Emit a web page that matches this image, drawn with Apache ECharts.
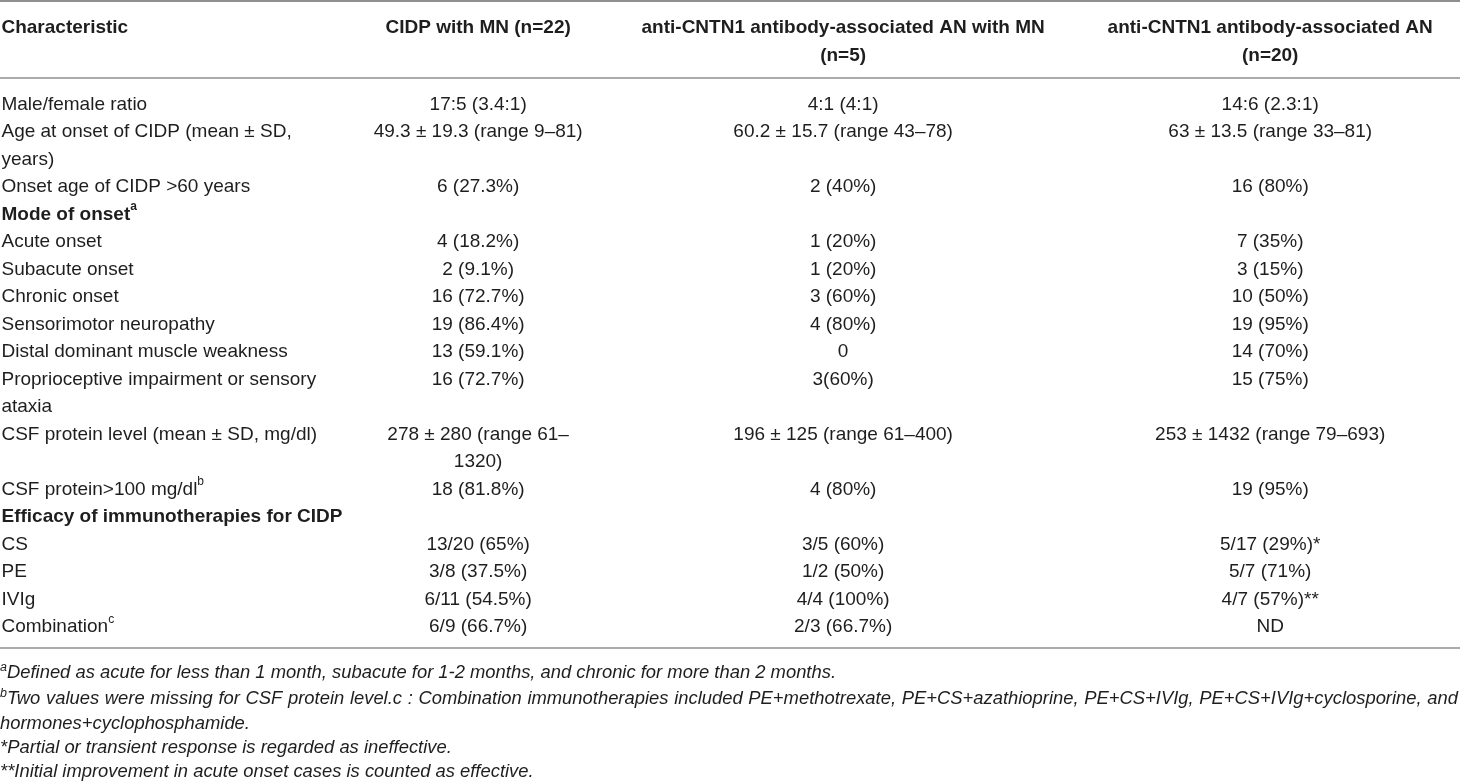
<!DOCTYPE html>
<html>
<head>
<meta charset="utf-8">
<title>CIDP with MN vs anti-CNTN1 AN</title>
<script src="https://cdn.jsdelivr.net/npm/echarts@6/dist/echarts.min.js"></script>
<style>
  html, body { margin: 0; padding: 0; background: #fff; }
  #charts { width: 1460px; height: 783px; }
</style>
</head>
<body>
<div id="charts"></div>
<script>
// ---- table content ----
var headers = [
    'Characteristic',
    'CIDP with MN (n=22)',
    'anti-CNTN1 antibody-associated AN with MN\n(n=5)',
    'anti-CNTN1 antibody-associated AN\n(n=20)'
];

var characteristics = [
    'Male/female ratio',
    'Age at onset of CIDP (mean ± SD,\nyears)',
    'Onset age of CIDP >60 years',
    'Mode of onset^a',
    'Acute onset',
    'Subacute onset',
    'Chronic onset',
    'Sensorimotor neuropathy',
    'Distal dominant muscle weakness',
    'Proprioceptive impairment or sensory\nataxia',
    'CSF protein level (mean ± SD, mg/dl)',
    'CSF protein>100 mg/dl^b',
    'Efficacy of immunotherapies for CIDP',
    'CS',
    'PE',
    'IVIg',
    'Combination^c'
];

var sectionRows = [3, 12];

var cidpWithMN = ['17:5 (3.4:1)', '49.3 ± 19.3 (range 9–81)', '6 (27.3%)', '', '4 (18.2%)', '2 (9.1%)',
    '16 (72.7%)', '19 (86.4%)', '13 (59.1%)', '16 (72.7%)', '278 ± 280 (range 61–\n1320)', '18 (81.8%)', '',
    '13/20 (65%)', '3/8 (37.5%)', '6/11 (54.5%)', '6/9 (66.7%)'];

var cntn1WithMN = ['4:1 (4:1)', '60.2 ± 15.7 (range 43–78)', '2 (40%)', '', '1 (20%)', '1 (20%)',
    '3 (60%)', '4 (80%)', '0', '3(60%)', '196 ± 125 (range 61–400)', '4 (80%)', '',
    '3/5 (60%)', '1/2 (50%)', '4/4 (100%)', '2/3 (66.7%)'];

var cntn1AN = ['14:6 (2.3:1)', '63 ± 13.5 (range 33–81)', '16 (80%)', '', '7 (35%)', '3 (15%)',
    '10 (50%)', '19 (95%)', '14 (70%)', '15 (75%)', '253 ± 1432 (range 79–693)', '19 (95%)', '',
    '5/17 (29%)*', '5/7 (71%)', '4/7 (57%)**', 'ND'];

var footnotes = [
    '^aDefined as acute for less than 1 month, subacute for 1-2 months, and chronic for more than 2 months.',
    '^bTwo values were missing for CSF protein level.c : Combination immunotherapies included PE+methotrexate, PE+CS+azathioprine, PE+CS+IVIg, PE+CS+IVIg+cyclosporine, and\nhormones+cyclophosphamide.',
    '*Partial or transient response is regarded as ineffective.',
    '**Initial improvement in acute onset cases is counted as effective.'
];

// ---- layout ----
var FONT = '"Liberation Sans", Arial, Helvetica, sans-serif';
var TEXT_COLOR = '#1e1e1e';
var RULE_COLOR = '#8f8f8f';
var COL_ANCHOR = [1, 327.5, 577.5, 870]; // per mille of table width
var FOOT_Y = [673, 699, 724, 748, 772];
var FOOT_SIZE = 18.4;

// 'text^x' -> rich tokens, x is a one-letter superscript
function toRich(str) {
    var i = str.indexOf('^');
    if (i < 0) return str;
    return str.slice(0, i) + '{sup|' + str.charAt(i + 1) + '}' + str.slice(i + 2);
}
function toTokens(str) {
    var i = str.indexOf('^');
    if (i < 0) return '{n|' + str + '}';
    var out = '';
    if (i > 0) out += '{n|' + str.slice(0, i) + '}';
    out += '{sup|' + str.charAt(i + 1) + '}';
    if (str.length > i + 2) out += '{n|' + str.slice(i + 2) + '}';
    return out;
}

function lineCount(s) { return s.split('\n').length; }

// body cells, one slot per printed line
var bodyCells = [];
var slot = 0;
characteristics.forEach(function (name, r) {
    var row = [name, cidpWithMN[r], cntn1WithMN[r], cntn1AN[r]];
    var bold = sectionRows.indexOf(r) >= 0;
    var n = 1;
    row.forEach(function (txt, c) {
        if (txt === '') return;
        bodyCells.push({ col: c, slot: slot, text: toRich(txt), bold: bold });
        n = Math.max(n, lineCount(txt));
    });
    slot += n;
});
var bodySlots = slot;

var headCells = headers.map(function (h, c) {
    return { col: c, slot: 0, text: h, bold: true };
});

function slotNames(n) {
    var a = [];
    for (var i = 0; i < n; i++) a.push('s' + i);
    return a;
}

function makeRender(cells) {
    return function (params, api) {
        var cell = cells[params.dataIndex];
        var pt = api.coord([COL_ANCHOR[cell.col], api.value(1)]);
        var slotH = api.size([0, 1])[1];
        var weight = cell.bold ? 'bold' : 'normal';
        return {
            type: 'text',
            x: pt[0],
            y: pt[1] - slotH / 2,
            style: {
                text: cell.text,
                fill: TEXT_COLOR,
                fontFamily: FONT,
                fontSize: 19,
                fontWeight: weight,
                lineHeight: slotH,
                align: cell.col === 0 ? 'left' : 'center',
                verticalAlign: 'top',
                rich: {
                    sup: { fontSize: 12, fontFamily: FONT, fontWeight: weight, fill: TEXT_COLOR,
                           verticalAlign: 'top', lineHeight: 17 }
                }
            }
        };
    };
}

// ---- footnotes (first line of b is justified like the source) ----
var measureCtx = document.createElement('canvas').getContext('2d');
function footFont(size) { return 'italic ' + size + 'px ' + FONT; }
var SUP_SIZE = 12.5;

function footText(x, y, tokens) {
    return {
        type: 'text', x: x, y: y,
        style: {
            text: tokens, verticalAlign: 'middle', lineHeight: 24,
            rich: {
                n: { fontSize: FOOT_SIZE, fontFamily: FONT, fontStyle: 'italic', fill: TEXT_COLOR, lineHeight: 24 },
                sup: { fontSize: SUP_SIZE, fontFamily: FONT, fontStyle: 'italic', fill: TEXT_COLOR,
                       verticalAlign: 'top', lineHeight: 14 }
            }
        }
    };
}

var graphics = [];
[1, 78, 648].forEach(function (y, i) {
    graphics.push({ type: 'line', shape: { x1: 0, y1: y, x2: 1460, y2: y },
        style: { stroke: RULE_COLOR, lineWidth: i === 0 ? 2 : 1.6 } });
});

var fLine = 0;
footnotes.forEach(function (note) {
    var parts = note.split('\n');
    parts.forEach(function (part, p) {
        var y = FOOT_Y[fLine++];
        var justify = parts.length > 1 && p < parts.length - 1;
        if (!justify) {
            graphics.push(footText(0, y, toTokens(part)));
            return;
        }
        var supChar = part.charAt(0) === '^' ? part.charAt(1) : '';
        var body = supChar ? part.slice(2) : part;
        var x0 = 0;
        if (supChar) {
            // zero-width tail keeps the full line box so the mark sits raised
            graphics.push(footText(0, y, '{sup|' + supChar + '}{n|\u200b}'));
            measureCtx.font = footFont(SUP_SIZE);
            x0 = measureCtx.measureText(supChar).width;
        }
        measureCtx.font = footFont(FOOT_SIZE);
        var words = body.split(' ');
        var widths = words.map(function (w) { return measureCtx.measureText(w).width; });
        var total = widths.reduce(function (a, b) { return a + b; }, 0);
        var gap = (1458 - x0 - total) / (words.length - 1);
        var x = x0;
        words.forEach(function (w, j) {
            graphics.push(footText(x, y, '{n|' + w + '}'));
            x += widths[j] + gap;
        });
    });
});

var option = {
    animation: false,
    grid: [
        { left: 0, right: 0, top: 14, height: 55.1 },
        { left: 0, right: 0, top: 90.8, height: 27.5 * bodySlots }
    ],
    xAxis: [
        { type: 'value', gridIndex: 0, min: 0, max: 1000, show: false },
        { type: 'value', gridIndex: 1, min: 0, max: 1000, show: false }
    ],
    yAxis: [
        { type: 'category', gridIndex: 0, inverse: true, data: slotNames(2), show: false },
        { type: 'category', gridIndex: 1, inverse: true, data: slotNames(bodySlots), show: false }
    ],
    graphic: { elements: graphics },
    series: [
        {
            type: 'custom', xAxisIndex: 0, yAxisIndex: 0, silent: true,
            renderItem: makeRender(headCells),
            data: headCells.map(function (c) { return [c.col, c.slot]; })
        },
        {
            type: 'custom', xAxisIndex: 1, yAxisIndex: 1, silent: true,
            renderItem: makeRender(bodyCells),
            data: bodyCells.map(function (c) { return [c.col, c.slot]; })
        }
    ]
};

window.onload = function () {
    var myChart = echarts.init(document.getElementById('charts'), null, { renderer: 'canvas' });
    myChart.setOption(option);
};
</script>
</body>
</html>
